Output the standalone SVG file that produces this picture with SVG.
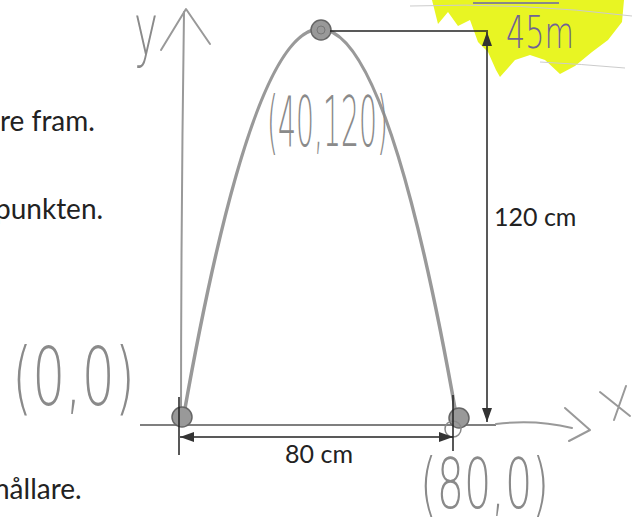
<svg xmlns="http://www.w3.org/2000/svg" width="640" height="518" viewBox="0 0 640 518">
<defs>
<style>
.print{font-family:Lato,"Open Sans","Liberation Sans",sans-serif;font-size:28px;fill:#222}
.label{font-family:Lato,"Open Sans","Liberation Sans",sans-serif;font-size:25px;fill:#222}
.hand{font-family:"DejaVu Sans","Liberation Sans",sans-serif;font-weight:200;fill:#8a8a8a}
.dim{stroke:#222;stroke-width:1.5;fill:none}
.pencil{stroke:#999;fill:none;stroke-linecap:round;stroke-linejoin:round}
.blob{fill:#999;stroke:#666;stroke-width:1.5}
</style>
<marker id="ah2" viewBox="0 0 14 10" refX="14" refY="5" markerWidth="14" markerHeight="10" markerUnits="userSpaceOnUse" orient="auto-start-reverse">
<path d="M0,0 L14,5 L0,10 z" fill="#333"/>
</marker>
</defs>
<rect width="640" height="518" fill="#fff"/>
<!-- highlighter -->
<path d="M432,0 L438,24 L448,12 L458,26 L470,20 L478,42 L488,52 L496,70 L500,77 L515,60 L530,55 L545,60 L560,74 L575,66 L592,52 L608,40 L622,22 L624,0 Z" fill="#e8f523"/>
<path d="M473,3 L559,3" stroke="#888" stroke-width="2"/>
<path d="M410,6 Q520,2 632,16" stroke="#ccc" stroke-width="1" fill="none"/>
<path d="M540,62 Q580,64 625,68" stroke="#ccc" stroke-width="1" fill="none"/>
<text x="506" y="48" class="hand" style="fill:#6f6296;font-size:44px" textLength="68" lengthAdjust="spacingAndGlyphs">45m</text>
<!-- printed text -->
<text x="0" y="131" class="print">re fram.</text>
<text x="-5" y="219" class="print">punkten.</text>
<text x="-6" y="499" class="print">hållare.</text>
<!-- axes (pencil) -->
<g id="y-axis">
<path d="M184,12 Q181,220 181,425" class="pencil" stroke-width="2"/>
<path d="M161,50 L186,9 L210,44" class="pencil" stroke-width="2"/>
<text x="134" y="55" class="hand" style="font-size:72px" textLength="24" lengthAdjust="spacingAndGlyphs">y</text>
</g>
<g id="x-axis">
<path d="M140,425 L496,425" stroke="#555" stroke-width="1.6"/>
<path d="M496,424 Q535,419 572,428" class="pencil" stroke-width="2"/>
<path d="M565,408 L590,430 L569,441" class="pencil" stroke-width="2"/>
<path d="M600,392 L630,416 M626,386 L614,420" class="pencil" stroke-width="2"/>
</g>
<!-- parabola -->
<g id="parabola">
<path d="M184,414 Q320,-356 456,414" class="pencil" stroke="#8c8c8c" stroke-width="3.5"/>
</g>
<!-- points -->
<g id="top-point">
<circle cx="321" cy="30" r="10" class="blob" stroke="#555"/>
<circle cx="321" cy="30" r="4" fill="none" stroke="#777" stroke-width="1"/>
<text x="267" y="146" class="hand" style="font-size:70px" textLength="121" lengthAdjust="spacingAndGlyphs">(40,120)</text>
</g>
<g id="origin-point">
<circle cx="182" cy="417" r="10" class="blob"/>
<text x="12" y="405" class="hand" style="font-size:80px" textLength="123" lengthAdjust="spacingAndGlyphs">(0,0)</text>
</g>
<g id="end-point">
<circle cx="459" cy="418" r="10" class="blob"/>
<circle cx="453" cy="429" r="8" fill="none" stroke="#888" stroke-width="1.5"/>
<text x="420" y="508" class="hand" style="font-size:70px" textLength="129" lengthAdjust="spacingAndGlyphs">(80,0)</text>
</g>
<!-- dimensions -->
<g id="connectors">
<path d="M330,31 L488,31" class="dim"/>
<path d="M487,32 L487,422" class="dim" marker-start="url(#ah2)" marker-end="url(#ah2)"/>
<path d="M179,397 L179,455 M453,395 L453,451" class="dim"/>
<path d="M180,437 L453,437" class="dim" marker-start="url(#ah2)" marker-end="url(#ah2)"/>
</g>
<text x="494" y="226" class="label">120 cm</text>
<text x="319" y="463" class="label" text-anchor="middle">80 cm</text>
</svg>
